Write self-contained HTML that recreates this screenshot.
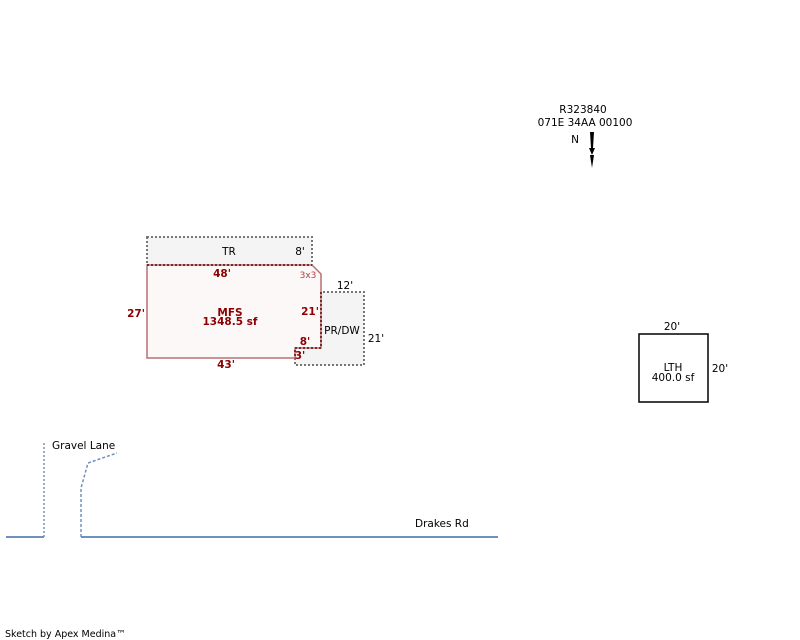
<!DOCTYPE html>
<html><head><meta charset="utf-8"><style>
html,body{margin:0;padding:0;background:#fff;}
svg{display:block;font-family:"DejaVu Sans","Liberation Sans",sans-serif;}
</style></head><body>
<svg width="800" height="640" viewBox="0 0 800 640" xmlns="http://www.w3.org/2000/svg">
<g font-size="10.5" fill="#000">
<text x="583" y="113" text-anchor="middle">R323840</text>
<text x="585" y="126" text-anchor="middle">071E 34AA 00100</text>
<text x="575" y="143" text-anchor="middle">N</text>
</g>
<g fill="#000">
<polygon points="590,132 594,132 593,148 591,148"/>
<polygon points="589,148 595,148 592,155"/>
<polygon points="590,155 594,155 592,168"/>
</g>
<rect x="147" y="237" width="165" height="28" fill="#f4f4f4" stroke="#777" stroke-width="2" stroke-dasharray="2,2"/>
<text x="229" y="255" font-size="10.5" text-anchor="middle">TR</text>
<text x="300" y="255" font-size="10.5" text-anchor="middle">8'</text>
<rect x="295" y="292" width="69" height="73" fill="#f4f4f4" stroke="#777" stroke-width="2" stroke-dasharray="2,2"/>
<text x="342" y="334" font-size="10.5" text-anchor="middle">PR/DW</text>
<text x="345" y="289" font-size="10.5" text-anchor="middle">12'</text>
<text x="376" y="342" font-size="10.5" text-anchor="middle">21'</text>
<polygon points="147,265 312,265 321,274 321,348 295,348 295,358 147,358" fill="#fcf8f8" stroke="#b87070" stroke-width="1.5"/>
<polyline points="147,265 312,265" fill="none" stroke="#7a2a2a" stroke-width="2" stroke-dasharray="2,2"/>
<polyline points="321,292 321,348 295,348 295,358" fill="none" stroke="#7a2a2a" stroke-width="2" stroke-dasharray="2,2"/>
<g fill="#8b0000" font-size="10.5" font-weight="bold" text-anchor="middle">
<text x="222" y="277">48'</text>
<text x="136" y="317">27'</text>
<text x="230" y="316">MFS</text>
<text x="230" y="325">1348.5 sf</text>
<text x="310" y="315">21'</text>
<text x="305" y="345">8'</text>
<text x="300" y="359">3'</text>
<text x="226" y="368">43'</text>
</g>
<text x="308" y="278" font-size="9" fill="#b04040" text-anchor="middle">3x3</text>
<rect x="639" y="334" width="69" height="68" fill="#fff" stroke="#000" stroke-width="1.5"/>
<text x="672" y="330" font-size="10.5" text-anchor="middle">20'</text>
<text x="720" y="372" font-size="10.5" text-anchor="middle">20'</text>
<text x="673" y="371" font-size="10.5" text-anchor="middle">LTH</text>
<text x="673" y="381" font-size="10.5" text-anchor="middle">400.0 sf</text>
<g stroke="#7090c0" fill="none">
<polyline points="44,443 44,537" stroke-width="1.5" stroke-dasharray="2,2"/>
<polyline points="81,537 81,488 88,463 117,453" stroke-width="1.5" stroke-dasharray="3,2"/>
<line x1="6" y1="537" x2="44" y2="537" stroke-width="2"/>
<line x1="81" y1="537" x2="498" y2="537" stroke-width="2"/>
</g>
<text x="52" y="449" font-size="10.5">Gravel Lane</text>
<text x="415" y="527" font-size="10.5">Drakes Rd</text>
<text x="5" y="637" font-size="9.5">Sketch by Apex Medina™</text>
</svg>
</body></html>
